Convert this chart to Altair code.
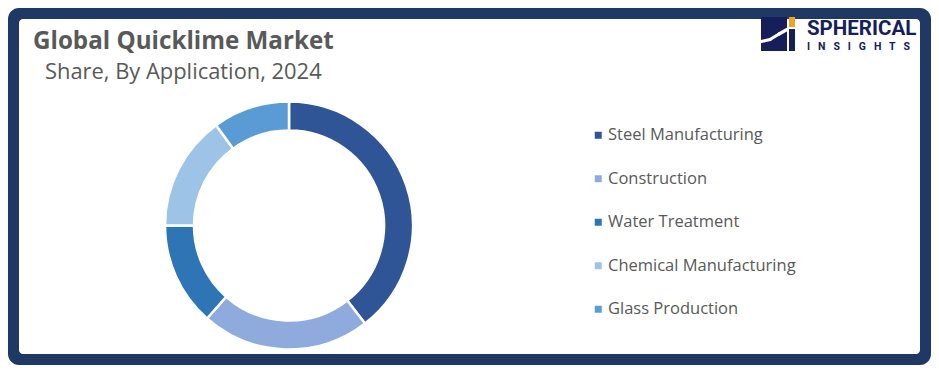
import altair as alt
import pandas as pd

# ---- data ----
categories = ["Steel Manufacturing", "Construction", "Water Treatment",
              "Chemical Manufacturing", "Glass Production"]
shares = [39.5, 22.0, 13.5, 15.0, 10.0]
colors = ["#2F5597", "#8FAADC", "#2E75B6", "#9DC3E6", "#5B9BD5"]

title_text = "Global Quicklime Market"
subtitle_text = "Share, By Application, 2024"
brand_top = "SPHERICAL"
brand_bottom = "I\u2002 N\u2002 S\u2002 I\u2002 G\u2002 H\u2002 T\u2002 S"

W, H = 923, 357
NAVY = "#1F3864"
LOGO = "#15205A"
GREY = "#595959"
FONT = "Open Sans"

df = pd.DataFrame({"category": categories, "share": shares,
                   "idx": list(range(len(categories)))})
one = pd.DataFrame({"a": [0]})


def box(x, x2, y, y2, color, radius=0):
    return alt.Chart(one).mark_rect(color=color, cornerRadius=radius).encode(
        x=alt.value(x), x2=alt.value(x2), y=alt.value(y), y2=alt.value(y2))


def label(text, x, y, size, color, weight="normal", font=FONT):
    return alt.Chart(one).mark_text(
        text=text, align="left", baseline="alphabetic", fontSize=size,
        font=font, fontWeight=weight, color=color).encode(
        x=alt.value(x), y=alt.value(y))


def seg(x, y, x2, y2):
    return alt.Chart(one).mark_rule(color="white", strokeWidth=3.2,
                                    strokeCap="round").encode(
        x=alt.value(x), y=alt.value(y), x2=alt.value(x2), y2=alt.value(y2))


frame = box(0, W, 0, H, NAVY, 11)
inner = box(11, W - 11, 11, H - 11, "white", 4)

donut = alt.Chart(df).mark_arc(
    outerRadius=124, innerRadius=95, stroke="white", strokeWidth=2.5
).encode(
    theta=alt.Theta("share:Q", stack=True),
    order=alt.Order("idx:Q"),
    color=alt.Color(
        "category:N",
        scale=alt.Scale(domain=categories, range=colors),
        sort=categories,
        legend=alt.Legend(
            title=None, orient="none", direction="vertical",
            legendX=582, legendY=119,
            symbolType="square", symbolSize=49, symbolStrokeWidth=0,
            labelFont=FONT, labelFontSize=16.5, labelColor=GREY,
            labelOffset=1.5, rowPadding=26.5, padding=0, labelLimit=400,
        ),
    ),
    x=alt.value(281), y=alt.value(217.5),
)

title = label(title_text, 25, 41, 24.2, GREY, "bold")
subtitle = label(subtitle_text, 37, 71, 21.9, GREY)

# logo
logo_block = box(753, 779, 9, 43, LOGO)
logo_orange = box(781, 787, 9, 19, "#F4A21E")
logo_bar = box(781, 787, 21, 43, LOGO)
sw1 = seg(753, 33.5, 762, 31.5)
sw2 = seg(762, 31.5, 771, 26)
sw3 = seg(771, 26, 779, 21.5)
brand1 = label(brand_top, 799, 27, 20.5, LOGO, "bold", "Roboto")
brand2 = label(brand_bottom, 799, 42, 10.5, LOGO, "bold", "Roboto")

chart = alt.layer(
    frame, inner, donut, title, subtitle,
    logo_block, logo_orange, logo_bar, sw1, sw2, sw3, brand1, brand2,
).properties(
    width=W, height=H, padding=0,
    autosize=alt.AutoSizeParams(type="none"),
).configure_view(strokeWidth=0)

chart.save("out.html", embed_options={"renderer": "svg", "actions": False})
